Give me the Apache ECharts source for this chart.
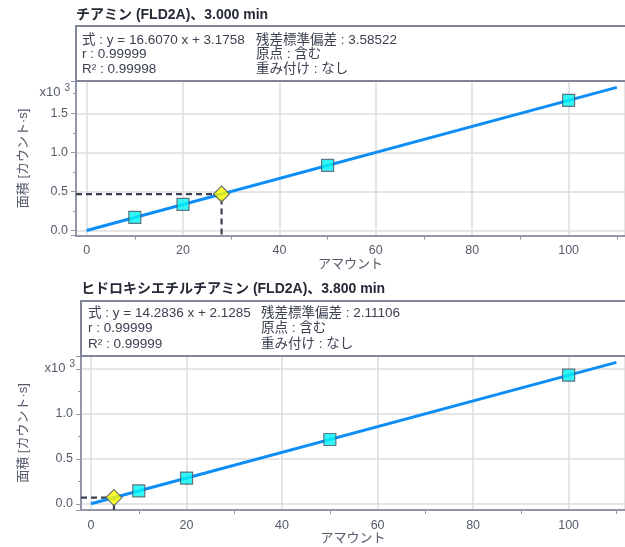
<!DOCTYPE html>
<html>
<head>
<meta charset="utf-8">
<script src="https://cdn.jsdelivr.net/npm/echarts@6/dist/echarts.min.js"></script>
<style>
  html, body { margin: 0; padding: 0; background: #ffffff; }
  #chart { width: 625px; height: 547px; }
</style>
</head>
<body>
<div id="chart"></div>
<script>
// ---- calibration data: チアミン ----
var thiamineTitle = 'チアミン (FLD2A)、3.000 min';
var thiamineInfoLeft = ['式 : y = 16.6070 x + 3.1758', 'r : 0.99999', 'R² : 0.99998'];
var thiamineInfoRight = ['残差標準偏差 : 3.58522', '原点 : 含む', '重み付け : なし'];
var thiamineSlope = 16.6070;
var thiamineIntercept = 3.1758;
var thiamineLevels = [10, 20, 50, 100];
var thiamineAreas = [169.2, 335.3, 833.5, 1663.9];
var thiamineSample = [28.0, 468.2];
var thiamineXRange = [-2.2, 111.7];
var thiamineYRange = [-64, 1912];
var thiamineYTicks = ['0.0', '0.5', '1.0', '1.5'];

// ---- calibration data: ヒドロキシエチルチアミン ----
var hetTitle = 'ヒドロキシエチルチアミン (FLD2A)、3.800 min';
var hetInfoLeft = ['式 : y = 14.2836 x + 2.1285', 'r : 0.99999', 'R² : 0.99999'];
var hetInfoRight = ['残差標準偏差 : 2.11106', '原点 : 含む', '重み付け : なし'];
var hetSlope = 14.2836;
var hetIntercept = 2.1285;
var hetLevels = [10, 20, 50, 100];
var hetAreas = [145.0, 287.8, 716.3, 1430.5];
var hetSample = [4.8, 70.7];
var hetXRange = [-2.1, 111.8];
var hetYRange = [-67, 1644];
var hetYTicks = ['0.0', '0.5', '1.0'];

// shared x tick labels and the span of the fitted line
var xTicks = ['0', '20', '40', '60', '80', '100'];
var fitSpan = [0, 110];

var xName = 'アマウント';
var yName = '面積 [カウント·s]';
var scaleLabel = 'x10';
var scaleExp = '3';

var FONT = '"Liberation Sans", Arial, "Noto Sans CJK JP", sans-serif';
var JP = '"Liberation Sans", "Noto Sans CJK JP", sans-serif';
var AXIS_COLOR = '#9296a6';
var LABEL_COLOR = '#555b6b';
var TEXT_COLOR = '#3c4150';
var GRID_COLOR = '#dcdce0';

function fitLine(slope, intercept) {
  return fitSpan.map(function (x) { return [x, slope * x + intercept]; });
}

function labelFor(v, list, scale) {
  for (var i = 0; i < list.length; i++) {
    if (Math.abs(parseFloat(list[i]) * scale - v) < 1e-6) return list[i];
  }
  return '';
}

function makeXAxis(idx, range) {
  return {
    type: 'value', gridIndex: idx, min: range[0], max: range[1], splitNumber: 5,
    name: xName, nameLocation: 'middle', nameGap: 22,
    nameTextStyle: { color: LABEL_COLOR, fontSize: 13, fontFamily: JP },
    axisLine: { show: true, onZero: false, lineStyle: { color: AXIS_COLOR, width: 2 } },
    axisTick: { show: false },
    minorTick: { show: true, splitNumber: 2, length: 4, lineStyle: { color: AXIS_COLOR, width: 1 } },
    splitLine: { show: true, lineStyle: { color: GRID_COLOR, width: 1.5 } },
    axisLabel: {
      color: LABEL_COLOR, fontSize: 12.5, fontFamily: FONT, margin: 9,
      showMinLabel: false, showMaxLabel: false,
      formatter: function (v) { return labelFor(v, xTicks, 1); }
    }
  };
}

function makeYAxis(idx, range, gap, ticks) {
  return {
    type: 'value', gridIndex: idx, min: range[0], max: range[1], splitNumber: 4,
    name: yName, nameLocation: 'middle', nameGap: gap, nameRotate: 90,
    nameTextStyle: { color: LABEL_COLOR, fontSize: 13, fontFamily: JP },
    axisLine: { show: true, onZero: false, lineStyle: { color: AXIS_COLOR, width: 2 } },
    axisTick: { show: true, length: 5, lineStyle: { color: AXIS_COLOR, width: 1 } },
    minorTick: { show: true, splitNumber: 2, length: 3, lineStyle: { color: AXIS_COLOR, width: 1 } },
    splitLine: { show: true, lineStyle: { color: GRID_COLOR, width: 1.5 } },
    axisLabel: {
      color: LABEL_COLOR, fontSize: 12.5, fontFamily: FONT, margin: 8,
      showMinLabel: false, showMaxLabel: false,
      formatter: function (v) { return labelFor(v, ticks, 1000); }
    }
  };
}

function makeSeries(idx, slope, intercept, levels, areas, sample, xRange, yRange) {
  var pts = levels.map(function (x, i) { return [x, areas[i]]; });
  return [
    {
      type: 'line', xAxisIndex: idx, yAxisIndex: idx, data: fitLine(slope, intercept),
      showSymbol: false, silent: true, z: 3,
      lineStyle: { color: '#0d8ef6', width: 3 }
    },
    {
      type: 'line', xAxisIndex: idx, yAxisIndex: idx, showSymbol: false, silent: true, z: 2,
      data: [[xRange[0], sample[1]], [sample[0], sample[1]], [sample[0], yRange[0]]],
      lineStyle: { color: '#3a4152', width: 2.2, type: [6, 4] }
    },
    {
      type: 'scatter', xAxisIndex: idx, yAxisIndex: idx, data: pts, z: 4,
      symbol: 'rect', symbolSize: 12,
      itemStyle: { color: '#00f5f5', borderColor: '#4b5563', borderWidth: 1.2 }
    },
    {
      type: 'scatter', xAxisIndex: idx, yAxisIndex: idx, data: [sample], z: 5,
      symbol: 'diamond', symbolSize: 16,
      itemStyle: { color: '#ffff00', borderColor: '#4b5563', borderWidth: 1.2 }
    }
  ];
}

function infoBlock(x, y, w, h, textX, col2X, lineY, left, right) {
  var els = [{
    type: 'rect', shape: { x: x, y: y, width: w, height: h },
    style: { fill: '#ffffff', stroke: '#80859a', lineWidth: 2 }, z: 10
  }];
  left.forEach(function (t, i) {
    els.push({ type: 'text', x: textX, y: lineY[i], z: 11,
      style: { text: t, fill: TEXT_COLOR, font: '13.5px ' + JP, verticalAlign: 'middle' } });
  });
  right.forEach(function (t, i) {
    els.push({ type: 'text', x: col2X, y: lineY[i], z: 11,
      style: { text: t, fill: TEXT_COLOR, font: '13.5px ' + JP, verticalAlign: 'middle' } });
  });
  return els;
}

function scaleMark(x, y) {
  return {
    type: 'text', x: x, y: y, z: 11,
    style: {
      text: '{a|' + scaleLabel + '}{b|' + scaleExp + '}',
      rich: {
        a: { fontSize: 13, fontFamily: FONT, fill: LABEL_COLOR, verticalAlign: 'bottom' },
        b: { fontSize: 10, fontFamily: FONT, fill: LABEL_COLOR, verticalAlign: 'top', padding: [0, 0, 6, 4] }
      },
      align: 'right', verticalAlign: 'middle'
    }
  };
}

var chart = echarts.init(document.getElementById('chart'), null, { renderer: 'canvas' });

var graphics = []
  .concat([{ type: 'text', x: 76, y: 15, z: 11,
    style: { text: thiamineTitle, fill: '#252a36', font: 'bold 14px ' + JP, verticalAlign: 'middle' } }])
  .concat(infoBlock(76, 26, 560, 55, 82, 256, [40, 54, 69], thiamineInfoLeft, thiamineInfoRight))
  .concat([scaleMark(70, 91)])
  .concat([{ type: 'text', x: 81, y: 289, z: 11,
    style: { text: hetTitle, fill: '#252a36', font: 'bold 14px ' + JP, verticalAlign: 'middle' } }])
  .concat(infoBlock(81, 301, 560, 55, 88, 261, [313, 328, 344], hetInfoLeft, hetInfoRight))
  .concat([scaleMark(75, 367)]);

chart.setOption({
  animation: false,
  backgroundColor: '#ffffff',
  grid: [
    { left: 76, top: 81, width: 549, height: 154.7 },
    { left: 81, top: 356, width: 544, height: 154 }
  ],
  xAxis: [makeXAxis(0, thiamineXRange), makeXAxis(1, hetXRange)],
  yAxis: [makeYAxis(0, thiamineYRange, 46, thiamineYTicks), makeYAxis(1, hetYRange, 51, hetYTicks)],
  series: []
    .concat(makeSeries(0, thiamineSlope, thiamineIntercept, thiamineLevels, thiamineAreas, thiamineSample, thiamineXRange, thiamineYRange))
    .concat(makeSeries(1, hetSlope, hetIntercept, hetLevels, hetAreas, hetSample, hetXRange, hetYRange)),
  graphic: graphics
});
</script>
</body>
</html>
